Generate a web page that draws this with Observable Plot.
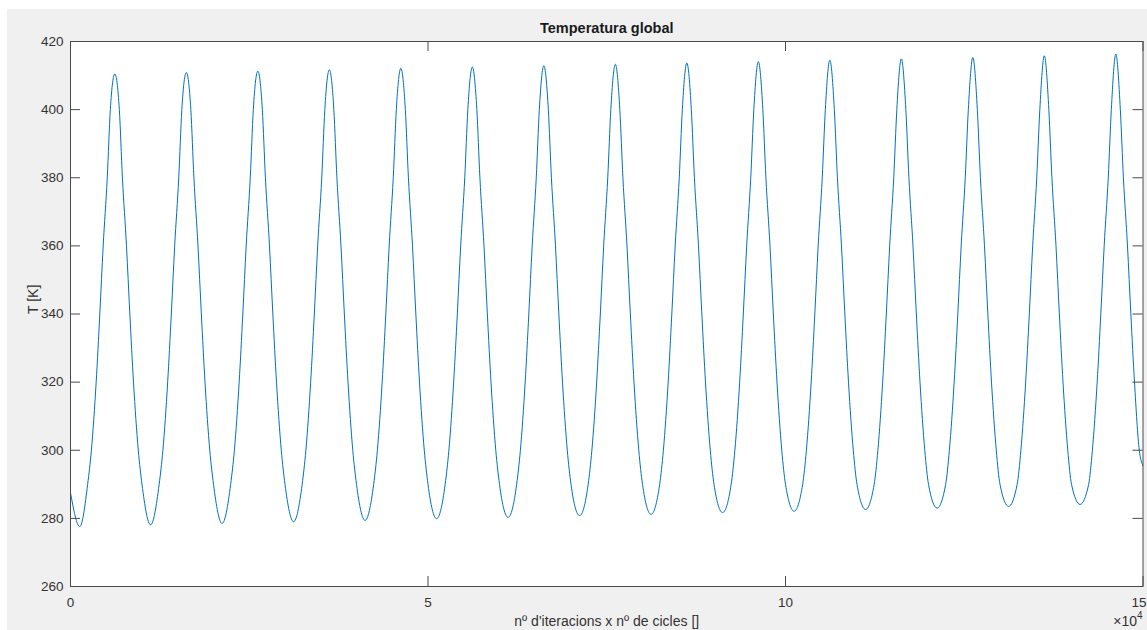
<!DOCTYPE html>
<html>
<head>
<meta charset="utf-8">
<script src="https://cdn.jsdelivr.net/npm/d3@7"></script>
<script src="https://cdn.jsdelivr.net/npm/@observablehq/plot@0.6"></script>
<style>
  html, body { margin: 0; padding: 0; background: #ffffff; width: 1147px; height: 630px; overflow: hidden; }
  #bg { position: absolute; left: 7px; top: 9px; width: 1140px; height: 621px; background: #f0f0f0; }
  #chart { position: absolute; left: 0; top: 0; }
</style>
</head>
<body>
<div id="bg"></div>
<div id="chart"></div>
<script>
// ---- Data ----
const titleText = "Temperatura global";
const xLabel = "nº d'iteracions x nº de cicles []";
const yLabel = "T [K]";
const xExponentBase = "×10";
const xExponentPower = "4";

const yTicks = [260, 280, 300, 320, 340, 360, 380, 400, 420];
const xTicks = [0, 50000, 100000, 150000];
const xTickLabels = ["0", "5", "10", "15"];

// start / end of the series
const startPoint = [0, 287.5];
const endPoint = [150000, 295.5];

// peaks of each cycle
const peakIter = [6200, 16200, 26200, 36200, 46200, 56200, 66200, 76200, 86200, 96200, 106200, 116200, 126200, 136200, 146200];
const peakTemp = [410.5, 410.9, 411.3, 411.7, 412.1, 412.5, 412.9, 413.3, 413.7, 414.1, 414.5, 414.9, 415.3, 415.8, 416.3];

// troughs of each cycle
const troughIter = [1300, 11200, 21200, 31200, 41200, 51200, 61200, 71200, 81200, 91200, 101200, 111200, 121200, 131200, 141200];
const troughTemp = [277.6, 278.1, 278.5, 279.0, 279.4, 279.9, 280.3, 280.8, 281.2, 281.7, 282.1, 282.6, 283.0, 283.5, 284.1];

// where the curve crosses these temperatures, measured as distance from the nearest peak
const crossTemp = [400, 380, 360, 340, 320, 300, 290];
const crossHalfWidth = [630, 1060, 1630, 2100, 2610, 3280, 3800];

// ---- Build the table ----
const rows = [{iter: startPoint[0], temp: startPoint[1]}];
for (let k = 0; k < peakIter.length; k++) {
  rows.push({iter: troughIter[k], temp: troughTemp[k]});
  for (let j = crossTemp.length - 1; j >= 0; j--) {
    rows.push({iter: peakIter[k] - crossHalfWidth[j], temp: crossTemp[j]});
  }
  rows.push({iter: peakIter[k], temp: peakTemp[k]});
  for (let j = 0; j < crossTemp.length; j++) {
    const x = peakIter[k] + crossHalfWidth[j];
    if (x < 149700) rows.push({iter: x, temp: crossTemp[j]});
  }
}
rows.push({iter: endPoint[0], temp: endPoint[1]});

// ---- Layout ----
const W = 1147, H = 630;
const mL = 70, mT = 41, mR = 4.5, mB = 44;
const innerW = W - mL - mR, innerH = H - mT - mB;
const axisColor = "#4a4a4a";
const textColor = "#333333";
const font = "'Liberation Sans', Arial, Helvetica, sans-serif";

const xLabelRows = xTicks.map((v, i) => ({v, label: xTickLabels[i]}));

const chart = Plot.plot({
  width: W,
  height: H,
  marginLeft: mL,
  marginTop: mT,
  marginRight: mR,
  marginBottom: mB,
  style: {background: "transparent", fontFamily: font, fontSize: "13.5px", color: textColor, overflow: "visible"},
  x: {domain: [0, 150000], type: "linear", axis: null},
  y: {domain: [260, 420], type: "linear"},
  marks: [
    Plot.frame({fill: "white", stroke: null}),
    Plot.line(rows, {x: "iter", y: "temp", stroke: "#0072BD", strokeWidth: 1, curve: "monotone-x"}),
    Plot.frame({stroke: axisColor, strokeWidth: 1}),
    // inward tick marks on all four sides
    Plot.tickY(yTicks, {y: d => d, insetRight: innerW - 10, stroke: axisColor}),
    Plot.tickY(yTicks, {y: d => d, insetLeft: innerW - 10, stroke: axisColor}),
    Plot.tickX(xTicks, {x: d => d, insetTop: innerH - 10, stroke: axisColor}),
    Plot.tickX(xTicks, {x: d => d, insetBottom: innerH - 10, stroke: axisColor}),
    Plot.axisY({ticks: yTicks, tickSize: 0, tickPadding: 7, label: null, fill: textColor, fontSize: 13.5}),
    // x tick labels (last one kept inside the picture)
    Plot.text(xLabelRows.slice(0, 3), {x: "v", text: "label", frameAnchor: "bottom", lineAnchor: "middle", dy: 16, fontSize: 13.5, fill: textColor}),
    Plot.text(xLabelRows.slice(3), {x: "v", text: "label", frameAnchor: "bottom", lineAnchor: "middle", textAnchor: "end", dx: 3.5, dy: 16, fontSize: 13.5, fill: textColor}),
    Plot.text([titleText], {text: d => d, frameAnchor: "top", lineAnchor: "middle", dy: -13, fontWeight: "bold", fontSize: 14.5, fill: "#1a1a1a"}),
    Plot.text([xLabel], {text: d => d, frameAnchor: "bottom", lineAnchor: "middle", dy: 35, fontSize: 14, fill: textColor}),
    Plot.text([yLabel], {text: d => d, frameAnchor: "left", lineAnchor: "middle", dx: -37, rotate: -90, fontSize: 14, fill: textColor}),
    Plot.text([xExponentBase], {text: d => d, frameAnchor: "bottom-right", lineAnchor: "middle", dy: 35, dx: -6, textAnchor: "end", fontSize: 14, fill: textColor}),
    Plot.text([xExponentPower], {text: d => d, frameAnchor: "bottom-right", lineAnchor: "middle", dy: 29, dx: -6, textAnchor: "start", fontSize: 10, fill: textColor})
  ]
});
document.getElementById("chart").appendChild(chart);
</script>
</body>
</html>
